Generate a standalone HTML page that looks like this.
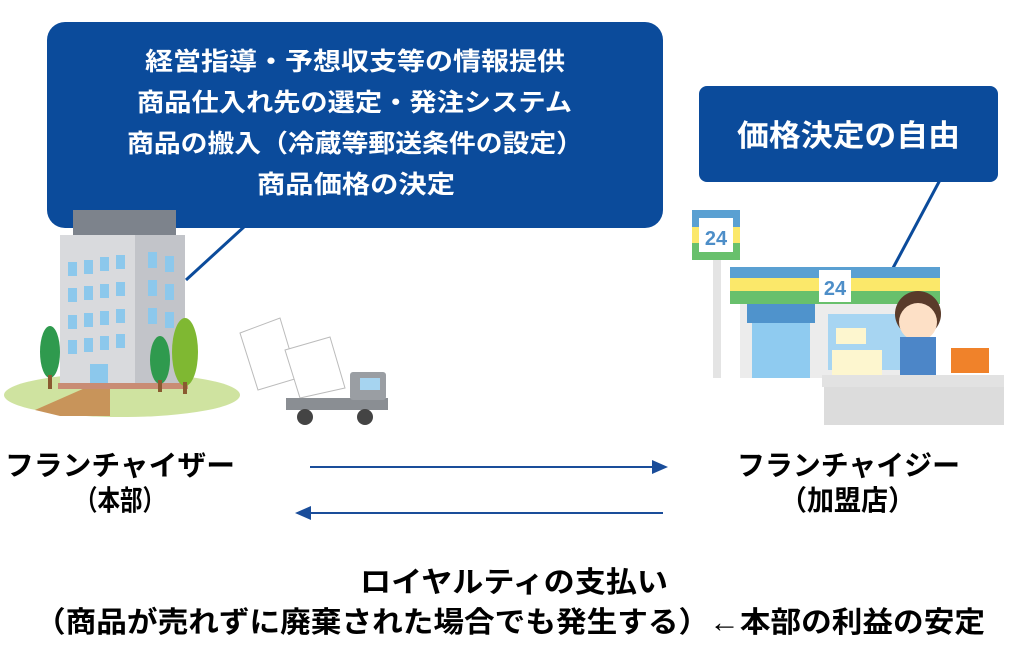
<!DOCTYPE html>
<html><head><meta charset="utf-8"><style>
html,body{margin:0;padding:0;background:#fff;}
svg text{font-family:"Liberation Sans","Noto Sans CJK JP",sans-serif;font-weight:bold;}
</style></head><body>
<svg width="1024" height="652" viewBox="0 0 1024 652" xmlns="http://www.w3.org/2000/svg">
<line x1="245" y1="226" x2="186" y2="280" stroke="#0b4b9b" stroke-width="3"/>
<line x1="940" y1="180" x2="893" y2="268" stroke="#0b4b9b" stroke-width="3"/>
<rect x="47" y="22" width="616" height="206" rx="18" fill="#0b4b9b"/>
<g fill="#fff" font-size="25">
<text x="145" y="70" textLength="420" lengthAdjust="spacingAndGlyphs">経営指導・予想収支等の情報提供</text>
<text x="137" y="111" textLength="435" lengthAdjust="spacingAndGlyphs">商品仕入れ先の選定・発注システム</text>
<text x="127" y="152" textLength="456" lengthAdjust="spacingAndGlyphs">商品の搬入（冷蔵等郵送条件の設定）</text>
<text x="257" y="193" textLength="198" lengthAdjust="spacingAndGlyphs">商品価格の決定</text>
</g>
<rect x="699" y="86" width="299" height="96" rx="8" fill="#0b4b9b"/>
<text x="737" y="146" fill="#fff" font-size="30" textLength="223" lengthAdjust="spacingAndGlyphs">価格決定の自由</text>

<ellipse cx="122" cy="395" rx="118" ry="22" fill="#cfe3a0"/>
<polygon points="35,410 85,388 110,388 110,416 60,416" fill="#c8945a"/>
<rect x="73" y="210" width="103" height="35" fill="#7d838c"/>
<rect x="60" y="235" width="75" height="150" fill="#d9dadd"/>
<rect x="135" y="235" width="50" height="150" fill="#c2c4c9"/>
<g fill="#8cc8ec">
<rect x="68" y="262" width="9" height="14"/><rect x="84" y="260" width="9" height="14"/><rect x="100" y="257" width="9" height="14"/><rect x="116" y="255" width="9" height="14"/>
<rect x="68" y="288" width="9" height="14"/><rect x="84" y="286" width="9" height="14"/><rect x="100" y="284" width="9" height="14"/><rect x="116" y="282" width="9" height="14"/>
<rect x="68" y="315" width="9" height="14"/><rect x="84" y="313" width="9" height="14"/><rect x="100" y="311" width="9" height="14"/><rect x="116" y="309" width="9" height="14"/>
<rect x="68" y="340" width="9" height="14"/><rect x="84" y="338" width="9" height="14"/><rect x="100" y="336" width="9" height="14"/><rect x="116" y="334" width="9" height="14"/>
<rect x="148" y="252" width="9" height="16"/><rect x="165" y="256" width="9" height="16"/>
<rect x="148" y="280" width="9" height="16"/><rect x="165" y="284" width="9" height="16"/>
<rect x="148" y="308" width="9" height="16"/><rect x="165" y="312" width="9" height="16"/>
<rect x="90" y="364" width="18" height="24"/>
</g>
<rect x="58" y="383" width="130" height="6" fill="#c98c74"/>
<ellipse cx="50" cy="352" rx="10" ry="26" fill="#2f9a4e"/><rect x="48" y="375" width="4" height="14" fill="#8a5a30"/>
<ellipse cx="160" cy="360" rx="10" ry="24" fill="#2f9a4e"/><rect x="158" y="380" width="4" height="12" fill="#8a5a30"/>
<ellipse cx="185" cy="352" rx="13" ry="34" fill="#7fb832"/><rect x="183" y="382" width="4" height="12" fill="#8a5a30"/>
<polygon points="240,333 280,318 298,378 258,390" fill="#fff" stroke="#bbb"/>
<polygon points="285,350 330,337 345,388 300,398" fill="#fff" stroke="#bbb"/>
<rect x="286" y="398" width="102" height="12" fill="#8a8e93"/>
<rect x="350" y="372" width="36" height="28" rx="3" fill="#9a9ea3"/>
<rect x="360" y="378" width="20" height="12" fill="#a6d4f0"/>
<circle cx="305" cy="417" r="8" fill="#444"/><circle cx="365" cy="417" r="8" fill="#444"/>

<rect x="692" y="210" width="48" height="50" fill="#5aa0d2"/>
<rect x="692" y="227" width="48" height="16" fill="#fbe86a"/>
<rect x="692" y="243" width="48" height="17" fill="#68c06c"/>
<rect x="699" y="218" width="34" height="34" fill="#fff"/>
<text x="716" y="245" font-size="20" fill="#4d8ec8" text-anchor="middle">24</text>
<rect x="713" y="260" width="8" height="118" fill="#e4e4e4"/>
<rect x="730" y="267" width="210" height="11" fill="#5aa0d2"/>
<rect x="730" y="278" width="210" height="13" fill="#fbe86a"/>
<rect x="730" y="291" width="210" height="13" fill="#68c06c"/>
<rect x="819" y="270" width="32" height="32" fill="#fff"/>
<text x="835" y="295" font-size="20" fill="#4d8ec8" text-anchor="middle">24</text>
<rect x="740" y="304" width="190" height="74" fill="#ececec"/>
<rect x="747" y="304" width="68" height="19" fill="#4f93cc"/>
<rect x="752" y="323" width="58" height="55" fill="#8fcbf0"/>
<rect x="828" y="314" width="80" height="56" fill="#a7d5f2"/>
<rect x="836" y="328" width="30" height="16" fill="#fdf6cf"/>
<rect x="832" y="350" width="50" height="26" fill="#fdf6cf"/>
<circle cx="918" cy="314" r="23" fill="#5a3b2a"/>
<circle cx="918" cy="322" r="19" fill="#fde0c6"/>
<rect x="900" y="337" width="36" height="40" fill="#4c86c8"/>
<rect x="951" y="348" width="38" height="25" fill="#f0822a"/>
<rect x="822" y="375" width="182" height="12" fill="#e2e2e2"/>
<rect x="824" y="387" width="180" height="38" fill="#dcdcdc"/>

<g fill="#000" font-size="28">
<text x="5" y="475" textLength="230" lengthAdjust="spacingAndGlyphs">フランチャイザー</text>
<text x="75" y="510" textLength="90" lengthAdjust="spacingAndGlyphs">（本部）</text>
<text x="737" y="475" textLength="223" lengthAdjust="spacingAndGlyphs">フランチャイジー</text>
<text x="780" y="510" textLength="135" lengthAdjust="spacingAndGlyphs">（加盟店）</text>
</g>
<line x1="310" y1="467" x2="656" y2="467" stroke="#1a4d9a" stroke-width="2"/>
<polygon points="668,467 652,460 652,474" fill="#1a4d9a"/>
<line x1="307" y1="513" x2="663" y2="513" stroke="#1a4d9a" stroke-width="2"/>
<polygon points="295,513 311,506 311,520" fill="#1a4d9a"/>
<g fill="#000" font-size="29">
<text x="360" y="592" textLength="308" lengthAdjust="spacingAndGlyphs">ロイヤルティの支払い</text>
<text x="35" y="632" textLength="950" lengthAdjust="spacingAndGlyphs">（商品が売れずに廃棄された場合でも発生する）←本部の利益の安定</text>
</g>
</svg>
</body></html>
